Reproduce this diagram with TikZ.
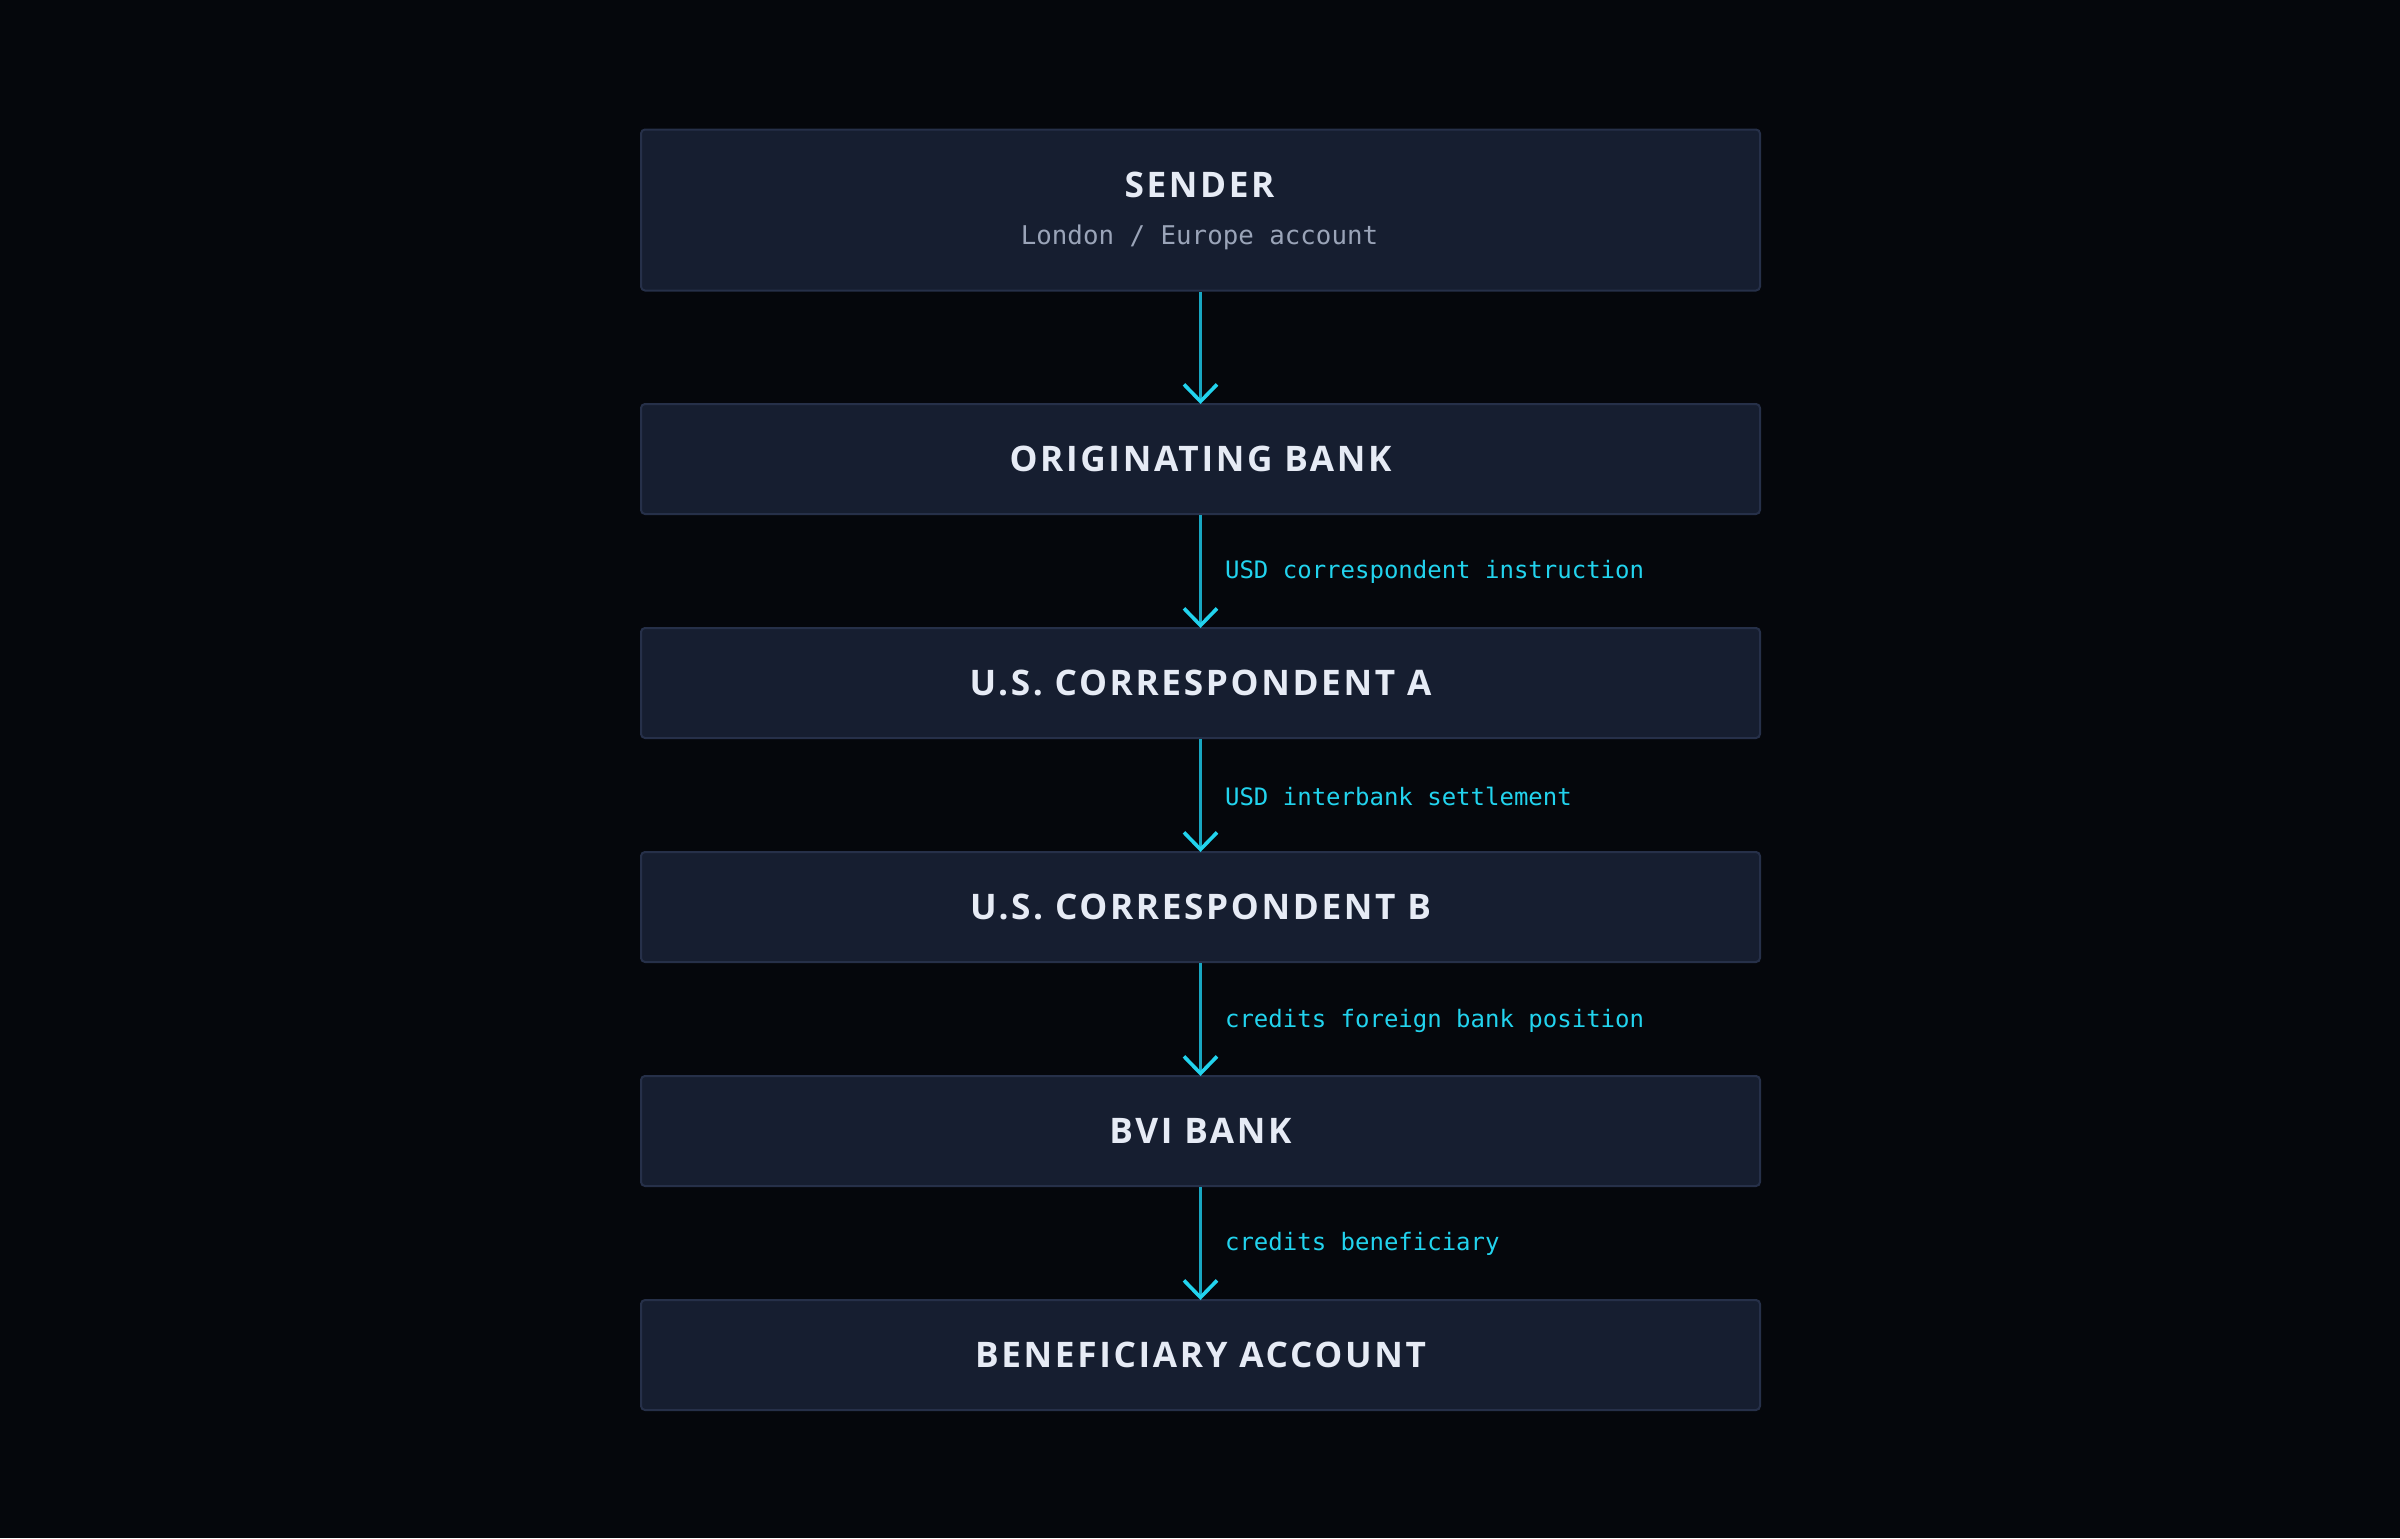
\documentclass[tikz,border=0pt]{standalone}
\usepackage{fontspec}
\setmainfont{Open Sans}
\newfontfamily\titlefont[LetterSpace=7.5]{Open Sans}
\newfontfamily\monofont{DejaVu Sans Mono}
\usetikzlibrary{arrows.meta}
\definecolor{bgc}{HTML}{05070C}
\definecolor{boxfill}{HTML}{161E30}
\definecolor{boxline}{HTML}{263049}
\definecolor{titlec}{HTML}{E6EBF5}
\definecolor{subc}{HTML}{9AA4B8}
\definecolor{cyanc}{HTML}{22D3EE}
\definecolor{linec}{HTML}{18A6C2}
\tikzset{
  stagebox/.style={draw=boxline, line width=1pt, fill=boxfill, rounded corners=2pt,
    minimum width=559.5pt, inner sep=0pt, anchor=north},
  ttl/.style={text=titlec, font=\titlefont\bfseries\fontsize{17.6}{20}\selectfont},
  sub/.style={text=subc, font=\monofont\fontsize{12.9}{15}\selectfont},
  lbl/.style={text=cyanc, font=\monofont\fontsize{12}{14}\selectfont, anchor=west},
  flow/.style={draw=linec, line width=1.5pt,
    -{Straight Barb[length=8.5pt, width=16.5pt, line width=1.8pt, color=cyanc]}, shorten >=-0.5pt},
}
\begin{document}
\begin{tikzpicture}[x=0.5pt,y=-0.5pt]
\fill[bgc] (0,0) rectangle (2400,1538);
\useasboundingbox (0,0) rectangle (2400,1538);
\node[stagebox, minimum height=80.5pt] (sender) at (1200.5,128.5) {};
\node[ttl] (sendert) at (1199.5,185) {SENDER};
\node[sub] (senders) at (1199.5,237) {London / Europe account};
\node[stagebox, minimum height=55pt] (orig) at (1200.5,403) {};
\node[ttl] at (orig.center) {ORIGINATING BANK};
\node[stagebox, minimum height=55pt] (corra) at (1200.5,627) {};
\node[ttl] at (corra.center) {U.S. CORRESPONDENT A};
\node[stagebox, minimum height=55pt] (corrb) at (1200.5,851) {};
\node[ttl] at (corrb.center) {U.S. CORRESPONDENT B};
\node[stagebox, minimum height=55pt] (bvi) at (1200.5,1075) {};
\node[ttl] at (bvi.center) {BVI BANK};
\node[stagebox, minimum height=55pt] (benef) at (1200.5,1299) {};
\node[ttl] at (benef.center) {BENEFICIARY ACCOUNT};
\draw[flow] (sender.south) -- (orig.north);
\draw[flow] (orig.south) -- (corra.north);
\draw[flow] (corra.south) -- (corrb.north);
\draw[flow] (corrb.south) -- (bvi.north);
\draw[flow] (bvi.south) -- (benef.north);
\node[lbl] (l1) at (1218,572) {USD correspondent instruction};
\node[lbl] (l2) at (1218,796) {USD interbank settlement};
\node[lbl] (l3) at (1218,1020.5) {credits foreign bank position};
\node[lbl] (l4) at (1218,1244) {credits beneficiary};
\end{tikzpicture}
\end{document}
